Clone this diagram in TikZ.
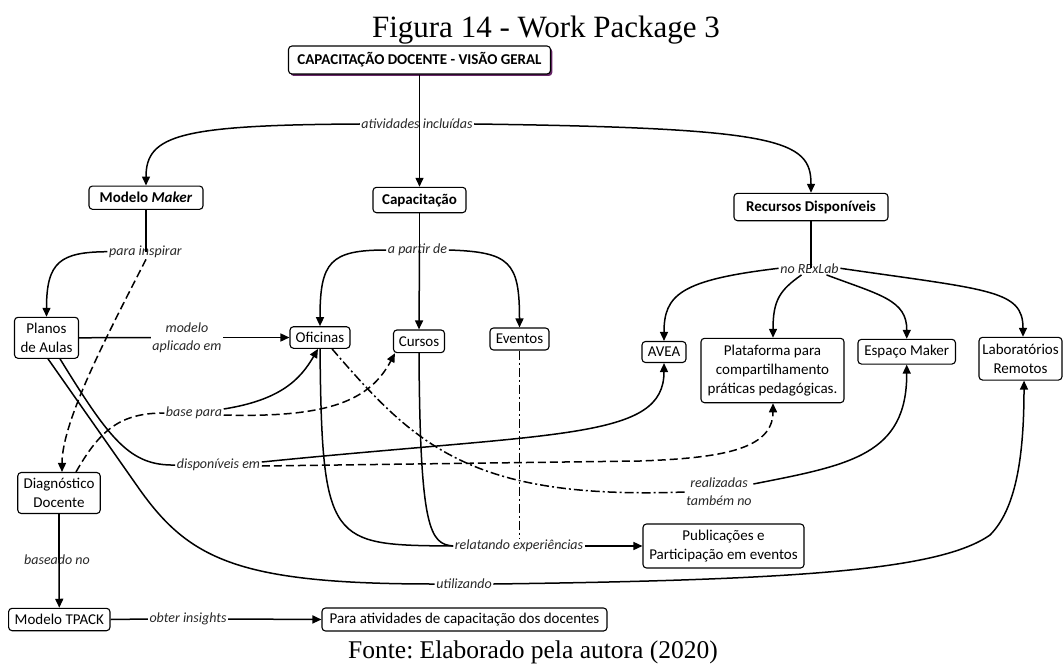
\documentclass[tikz,border=0pt]{standalone}
\usepackage{fontspec}
\usetikzlibrary{arrows.meta,shadows}
\newfontfamily\carlito{Carlito}
\newfontfamily\timesfont{Liberation Serif}
\newcommand\cmapfont{\carlito\fontsize{15}{19}\selectfont}
\newcommand\lblfont{\carlito\itshape\fontsize{14}{18}\selectfont}
\definecolor{purp}{RGB}{105,38,105}
\definecolor{lbltext}{RGB}{40,40,40}
\frenchspacing
\tikzset{
  box/.style={draw, rounded corners=3.5pt, line width=1.1pt, fill=white,
    font=\cmapfont, align=center, inner sep=2pt},
  lbl/.style={font=\lblfont, inner sep=1.5pt, align=center, text=lbltext},
  conn/.style={line width=1.5pt},
  arr/.style={conn, -{Triangle[length=9pt,width=8pt]}},
  dsh/.style={dash pattern=on 8pt off 4pt},
  dshdot/.style={dash pattern=on 9pt off 3pt on 2pt off 3pt},
}
\begin{document}
\begin{tikzpicture}[x=1pt,y=-1pt]
\fill[white] (0,0) rectangle (1064,663);
\useasboundingbox (0,0) rectangle (1064,663);

% caption lines
\node[anchor=base, font=\timesfont\fontsize{31}{36}\selectfont] (title) at (546,37.3) {Figura 14 - Work Package 3};
\node[anchor=base, font=\timesfont\fontsize{25.5}{30}\selectfont] (source) at (533,658.3) {Fonte: Elaborado pela autora (2020)};

% concepts
\node[box, font=\cmapfont\bfseries, minimum width=262pt, minimum height=28pt,
  drop shadow={shadow xshift=1.8pt, shadow yshift=-2pt, fill=purp, opacity=1}] (top) at (419.5,60) {CAPACITAÇÃO DOCENTE - VISÃO GERAL};
\node[box, font=\cmapfont\bfseries, minimum width=114pt, minimum height=23.3pt] (mm) at (146,197.7) {Modelo \textit{Maker}};
\node[box, font=\cmapfont\bfseries, minimum width=93pt, minimum height=25.4pt] (cap) at (419.5,200) {Capacitação};
\node[box, font=\cmapfont\bfseries, minimum width=154pt, minimum height=27.4pt] (rec) at (811,207) {Recursos Disponíveis};
\node[box, minimum width=64pt, minimum height=41pt] (pla) at (46.5,337.8) {Planos\\de Aulas};
\node[box, minimum width=60pt, minimum height=21.6pt] (ofi) at (320,337.5) {Oficinas};
\node[box, minimum width=51pt, minimum height=22.7pt] (cur) at (419,341.3) {Cursos};
\node[box, minimum width=59pt, minimum height=22pt] (eve) at (519.5,339) {Eventos};
\node[box, minimum width=44pt, minimum height=21pt] (avea) at (664,352) {AVEA};
\node[box, minimum width=143pt, minimum height=64.4pt] (plat) at (772.5,370.5) {Plataforma para\\compartilhamento\\práticas pedagógicas.};
\node[box, minimum width=97.5pt, minimum height=24.7pt] (esp) at (906.7,351.7) {Espaço Maker};
\node[box, minimum width=83pt, minimum height=42.7pt] (lab) at (1020.5,358.7) {Laboratórios\\Remotos};
\node[box, minimum width=82.5pt, minimum height=41pt] (dia) at (59,493) {Diagnóstico\\Docente};
\node[box, minimum width=161pt, minimum height=44pt] (pub) at (723.5,546) {Publicações e\\Participação em eventos};
\node[box, minimum width=101.4pt, minimum height=22.4pt] (tp) at (59.3,619.5) {Modelo TPACK};
\node[box, minimum width=285pt, minimum height=23pt] (pa) at (464.5,619.5) {Para atividades de capacitação dos docentes};

% linking phrases
\node[lbl] (lai) at (417,124) {atividades incluídas};
\node[lbl] (lpi) at (145.5,251.7) {para inspirar};
\node[lbl] (lap) at (417.5,250) {a partir de};
\node[lbl] (lrx) at (809.5,268.3) {no RExLab};
\node[lbl] (lma) at (187,337.5) {modelo\\aplicado em};
\node[lbl] (lbp) at (194,413) {base para};
\node[lbl] (ldi) at (218.5,465) {disponíveis em};
\node[lbl] (lre) at (719,492) {realizadas\\também no};
\node[lbl] (lrel) at (519,546) {relatando experiências};
\node[lbl] (lbn) at (57,560) {baseado no};
\node[lbl] (lut) at (464,584) {utilizando};
\node[lbl] (lob) at (188,619) {obter insights};

% top level
\draw[conn] (top.south) -- (top.south |- lai.center);
\draw[arr] (top.south |- lai.center) -- (cap.north);
\draw[arr] (lai.west) .. controls (180,125) and (146,135) .. (mm.north);
\draw[arr] (lai.east) .. controls (780,128) and (811,140) .. (rec.north);

% Modelo Maker branch
\draw[conn] (mm.south) -- (mm.south |- lpi.center);
\draw[arr] (lpi.west) .. controls (60,252) and (46.5,262) .. (pla.north);
\draw[arr, dsh] (mm.south |- lpi.south) .. controls (110,330) and (62,420) .. ([xshift=3pt]dia.north);
\draw[conn] (pla.east) -- (lma.west);
\draw[arr] (lma.east) -- (ofi.west);

% Capacitação branch
\draw[conn] (cap.south) -- (cap.south |- lap.center);
\draw[arr] (cap.south |- lap.center) -- (cur.north);
\draw[arr] (lap.west) .. controls (330,250) and (320,262) .. (ofi.north);
\draw[arr] (lap.east) .. controls (510,252) and (519.5,262) .. (eve.north);

% Recursos branch
\draw[conn] (rec.south) -- (rec.south |- lrx.center);
\draw[arr] (lrx.west) .. controls (680,280) and (664,295) .. (avea.north);
\draw[arr] ([xshift=-8pt]lrx.south) .. controls (780,290) and (773,300) .. ([xshift=0.5pt]plat.north);
\draw[arr] ([xshift=17pt]lrx.south) .. controls (880,295) and (907,300) .. (esp.north);
\draw[arr] (lrx.east) .. controls (990,290) and (1023,290) .. ([xshift=2.5pt]lab.north);

% relatando experiências
\draw[conn] (ofi.south) .. controls (322,545) and (330,545) .. (lrel.west);
\draw[conn] (cur.south) .. controls (420,530) and (430,544) .. (lrel.west);
\draw[conn, dshdot] (eve.south) -- (eve.south |- lrel.north);
\draw[arr] (lrel.east) -- (pub.west);

% realizadas também no
\draw[conn, dshdot] ([xshift=12pt]ofi.south) .. controls (415,445) and (470,500) .. (lre.west);
\draw[arr] ([yshift=8pt]lre.east) .. controls (850,465) and (907,455) .. (esp.south);

% base para
\draw[conn, dsh] ([xshift=17pt]dia.north) .. controls (100,430) and (120,413) .. (lbp.west);
\draw[arr] ([yshift=4pt]lbp.east) .. controls (280,400) and (300,380) .. ([xshift=-2pt]ofi.south);
\draw[arr, dsh] ([yshift=-2pt]lbp.east) .. controls (330,418) and (370,400) .. ([xshift=2pt]cur.south west);

% disponíveis em
\draw[conn] ([xshift=13.5pt]pla.south) .. controls (110,440) and (130,466) .. (ldi.west);
\draw[arr] ([yshift=3pt]ldi.east) .. controls (560,432) and (664,440) .. (avea.south);
\draw[arr, dsh] ([yshift=-1pt]ldi.east) -- (640,461) .. controls (720,458) and (773,450) .. ([xshift=0.5pt]plat.south);

% utilizando
\draw[conn] ([xshift=1.5pt]pla.south) -- (140,490) .. controls (190,560) and (240,584) .. (lut.west);
\draw[arr] (lut.east) .. controls (800,580) and (940,570) .. (990,535) .. controls (1015,510) and (1024,460) .. ([xshift=3.5pt]lab.south);

% diagnóstico and TPACK
\draw[conn] (dia.south) -- (dia.south |- lbn.center);
\draw[arr] (dia.south |- lbn.center) -- (tp.north);
\draw[conn] (tp.east) -- (lob.west);
\draw[arr] (lob.east) -- (pa.west);
\end{tikzpicture}
\end{document}
